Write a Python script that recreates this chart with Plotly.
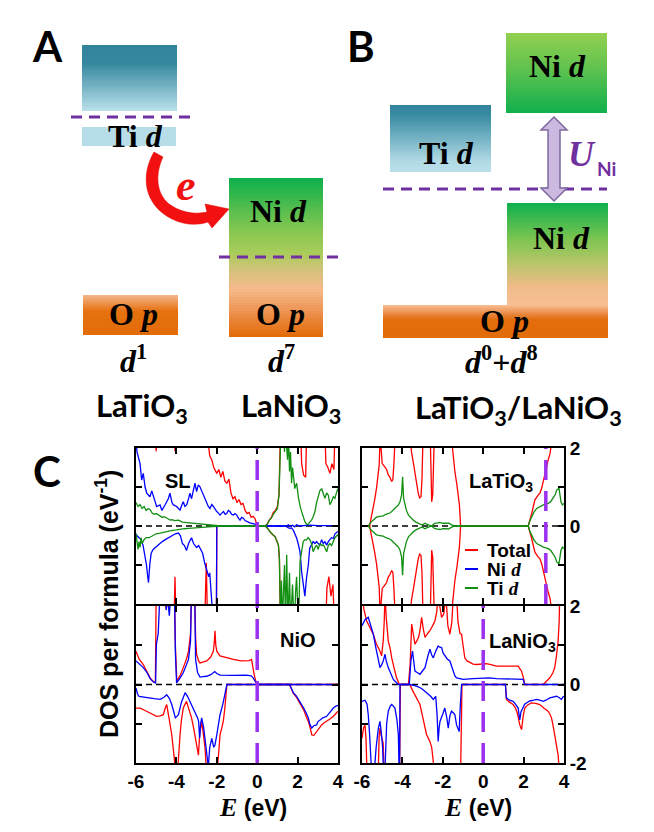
import numpy as np
import plotly.graph_objects as go

# ======================= DATA =======================
E_TICKS = [-6, -4, -2, 0, 2, 4]
E_TICK_LABELS = ["-6", "-4", "-2", "0", "2", "4"]
DOS_RANGE = [-2, 2]
DOS_MINOR_TICKS = [-1, 1]
DOS_LABELS_TOP = [0, 2]
DOS_LABELS_BOTTOM = [-2, 0, 2]
FERMI = {"SL": 0.0, "LaTiO3": 3.1, "NiO": 0.0, "LaNiO3": 0.0}

# ---- SL (superlattice) ----
sl_total_up = [(-6.0, 3.0), (-5.05, 2.5), (-5.0, 1.92), (-4.95, 2.5), (-4.1, 2.5), (-4.07, 1.92), (-4.03, 2.5),
               (-2.45, 2.5), (-2.42, 2.1), (-2.35, 1.8), (-2.25, 1.7), (-2.15, 1.5), (-2.05, 1.4), (-2.0, 1.35),
               (-1.9, 1.45), (-1.8, 1.25), (-1.7, 1.4), (-1.6, 1.15), (-1.5, 1.1), (-1.4, 1.2), (-1.3, 0.85),
               (-1.2, 0.7), (-1.1, 0.75), (-1.0, 0.6), (-0.9, 0.68), (-0.8, 0.55), (-0.7, 0.58), (-0.6, 0.4),
               (-0.5, 0.32), (-0.4, 0.35), (-0.3, 0.22), (-0.2, 0.25), (-0.1, 0.18), (-0.02, 0.05), (0.0, 0.0),
               (0.4, 0.0), (0.5, 0.05), (0.6, 0.15), (0.7, 0.22), (0.8, 0.35), (0.9, 0.4), (1.0, 0.5), (1.08, 0.8),
               (1.15, 2.5), (2.15, 2.5), (2.2, 1.6), (2.3, 1.3), (2.4, 1.25), (2.45, 2.5), (3.35, 2.5), (3.4, 1.6),
               (3.5, 1.5), (3.6, 1.35), (3.7, 1.6), (3.8, 1.45), (3.85, 2.5), (4.0, 2.5)]
sl_ni_up = [(-6.0, 2.2), (-5.95, 1.9), (-5.8, 1.6), (-5.72, 1.18), (-5.64, 1.35), (-5.55, 1.0), (-5.47, 0.84),
            (-5.31, 0.75), (-5.22, 0.9), (-5.14, 0.79), (-5.05, 0.62), (-4.98, 0.5), (-4.81, 0.54), (-4.72, 0.4),
            (-4.65, 0.45), (-4.55, 0.55), (-4.48, 0.62), (-4.4, 0.7), (-4.32, 0.84), (-4.22, 0.6), (-4.15, 0.54),
            (-3.99, 0.5), (-3.9, 0.45), (-3.82, 0.41), (-3.72, 0.55), (-3.66, 0.62), (-3.58, 0.5), (-3.49, 0.54),
            (-3.4, 0.7), (-3.33, 0.84), (-3.25, 0.7), (-3.16, 0.97), (-3.08, 1.1), (-3.0, 0.88), (-2.92, 1.05),
            (-2.84, 1.01), (-2.75, 0.9), (-2.67, 0.79), (-2.58, 0.7), (-2.5, 0.62), (-2.42, 0.5), (-2.34, 0.45),
            (-2.25, 0.55), (-2.17, 0.5), (-2.08, 0.42), (-2.0, 0.37), (-1.92, 0.33), (-1.84, 0.28), (-1.75, 0.33),
            (-1.67, 0.37), (-1.58, 0.3), (-1.51, 0.32), (-1.43, 0.4), (-1.35, 0.37), (-1.27, 0.3), (-1.18, 0.28),
            (-1.1, 0.32), (-1.01, 0.28), (-0.93, 0.2), (-0.85, 0.15), (-0.77, 0.22), (-0.69, 0.2), (-0.6, 0.14),
            (-0.52, 0.11), (-0.44, 0.1), (-0.36, 0.08), (-0.2, 0.07), (-0.11, 0.05), (0.0, 0.0), (1.45, 0.0),
            (1.55, 0.03), (1.65, -0.01), (1.75, 0.02), (1.85, -0.02), (1.95, 0.03), (2.1, 0.0), (2.6, 0.02),
            (3.0, 0.01), (4.0, 0.01)]
sl_ti_up = [(-6.0, 0.6), (-5.9, 0.5), (-5.8, 0.55), (-5.7, 0.45), (-5.6, 0.5), (-5.5, 0.4), (-5.4, 0.45),
            (-5.3, 0.42), (-5.2, 0.33), (-5.1, 0.3), (-5.0, 0.32), (-4.9, 0.28), (-4.8, 0.25), (-4.7, 0.22),
            (-4.6, 0.24), (-4.5, 0.2), (-4.4, 0.18), (-4.3, 0.15), (-4.2, 0.16), (-4.1, 0.14), (-3.9, 0.15),
            (-3.7, 0.1), (-3.5, 0.09), (-3.3, 0.08), (-3.1, 0.06), (-2.9, 0.05), (-2.7, 0.04), (-2.5, 0.03),
            (-2.2, 0.02), (-2.0, 0.01), (-1.8, 0.0), (0.4, 0.0), (0.5, 0.05), (0.6, 0.15), (0.7, 0.2), (0.8, 0.3),
            (0.9, 0.38), (1.0, 0.45), (1.08, 0.8), (1.12, 1.6), (1.18, 2.5), (1.3, 2.5), (1.35, 1.9), (1.4, 2.5),
            (1.5, 1.7), (1.55, 2.3), (1.6, 1.4), (1.65, 1.9), (1.7, 1.1), (1.75, 1.5), (1.8, 1.2), (1.86, 0.96),
            (1.95, 1.1), (2.05, 0.7), (2.15, 0.45), (2.25, 0.3), (2.36, 0.11), (2.45, 0.04), (2.52, 0.04),
            (2.6, 0.1), (2.69, 0.15), (2.78, 0.25), (2.86, 0.37), (2.94, 0.6), (3.02, 0.79), (3.1, 0.9),
            (3.19, 0.96), (3.27, 0.8), (3.35, 0.71), (3.44, 0.85), (3.52, 0.79), (3.6, 0.55), (3.68, 0.62),
            (3.77, 0.75), (3.85, 0.71), (3.92, 0.85), (4.0, 0.96)]
sl_total_dn = [(-6.0, -2.5), (-4.12, -2.5), (-4.07, -1.3), (-4.02, -2.5), (-2.6, -2.5), (-2.52, -0.95),
               (-2.46, -2.5), (-2.02, -2.5), (-2.0, 0.0), (0.4, 0.0), (0.5, -0.05), (0.63, -0.15), (0.75, -0.22),
               (0.88, -0.27), (1.0, -0.4), (1.05, -0.49), (1.1, -0.85), (1.15, -2.5), (3.4, -2.5), (3.45, -1.6),
               (3.55, -1.3), (3.65, -1.8), (3.75, -1.5), (3.82, -2.5), (4.0, -2.5)]
sl_ni_dn = [(-6.0, -0.2), (-5.95, -0.25), (-5.85, -0.3), (-5.75, -0.35), (-5.65, -0.5), (-5.55, -0.75),
            (-5.48, -1.0), (-5.42, -1.3), (-5.38, -1.45), (-5.32, -1.0), (-5.25, -0.7), (-5.15, -0.6),
            (-5.05, -0.55), (-4.95, -0.5), (-4.85, -0.45), (-4.7, -0.4), (-4.55, -0.35), (-4.45, -0.32),
            (-4.33, -0.3), (-4.2, -0.25), (-4.05, -0.2), (-3.9, -0.18), (-3.8, -0.25), (-3.7, -0.45),
            (-3.6, -0.5), (-3.5, -0.63), (-3.4, -0.45), (-3.3, -0.35), (-3.25, -0.3), (-3.15, -0.45),
            (-3.0, -0.55), (-2.9, -0.5), (-2.8, -0.6), (-2.7, -0.7), (-2.6, -0.95), (-2.5, -1.1), (-2.4, -1.3),
            (-2.35, -1.2), (-2.3, -1.6), (-2.2, -2.3), (-2.02, -2.3), (-2.0, 0.0), (1.4, 0.0), (1.46, -0.03),
            (1.55, -0.05), (1.62, -0.06), (1.7, -0.05), (1.8, -0.12), (1.9, -0.25), (1.96, -0.32), (2.05, -0.5),
            (2.12, -0.66), (2.2, -1.17), (2.28, -1.5), (2.36, -1.8), (2.44, -1.34), (2.53, -1.0), (2.6, -0.57),
            (2.7, -0.45), (2.77, -0.4), (2.86, -0.45), (2.94, -0.4), (3.02, -0.45), (3.1, -0.49), (3.19, -0.35),
            (3.27, -0.45), (3.35, -0.4), (3.44, -0.49), (3.52, -0.4), (3.6, -0.35), (3.68, -0.3), (3.77, -0.32),
            (3.85, -0.2), (3.97, -0.15), (4.0, -0.15)]
sl_ti_dn = [(-6.0, -0.2), (-5.95, -0.35), (-5.9, -0.6), (-5.85, -0.4), (-5.8, -0.55), (-5.75, -0.3),
            (-5.7, -0.45), (-5.6, -0.35), (-5.5, -0.3), (-5.35, -0.3), (-5.2, -0.25), (-5.0, -0.2), (-4.8, -0.18),
            (-4.6, -0.15), (-4.4, -0.12), (-4.2, -0.11), (-4.0, -0.1), (-3.8, -0.08), (-3.6, -0.07), (-3.4, -0.06),
            (-3.2, -0.05), (-3.0, -0.04), (-2.7, -0.03), (-2.4, -0.02), (-2.0, -0.01), (-1.8, 0.0), (0.4, 0.0),
            (0.5, -0.05), (0.63, -0.15), (0.75, -0.22), (0.88, -0.27), (0.97, -0.38), (1.05, -0.49), (1.1, -0.83),
            (1.15, -2.5), (1.2, -1.4), (1.25, -2.5), (1.3, -1.7), (1.35, -1.0), (1.4, -2.5), (1.46, -0.74),
            (1.52, -2.5), (1.56, -1.6), (1.6, -1.2), (1.65, -2.5), (1.7, -1.9), (1.75, -1.5), (1.8, -2.2),
            (1.85, -2.5), (1.9, -1.7), (1.95, -1.3), (2.0, -2.0), (2.05, -2.5), (2.12, -0.91), (2.2, -0.6),
            (2.28, -0.4), (2.36, -0.35), (2.44, -0.36), (2.52, -0.3), (2.6, -0.35), (2.69, -0.45), (2.77, -0.66),
            (2.86, -0.55), (2.94, -0.49), (3.02, -0.6), (3.1, -0.45), (3.19, -0.5), (3.27, -0.49), (3.35, -0.55),
            (3.44, -0.66), (3.52, -0.5), (3.6, -0.45), (3.68, -0.5), (3.77, -0.4), (3.85, -0.3), (3.97, -0.23),
            (4.0, -0.25)]

# ---- bulk LaTiO3 (non-magnetic: up and down mirror each other) ----
latio_total_up = [(-6.0, 0.0), (-5.62, 0.0), (-5.55, 0.2), (-5.48, 0.37), (-5.38, 0.65), (-5.28, 0.97),
                  (-5.2, 1.3), (-5.15, 1.56), (-5.1, 2.3), (-5.05, 1.75), (-5.0, 1.6), (-4.92, 1.55),
                  (-4.85, 1.5), (-4.78, 1.45), (-4.7, 1.31), (-4.62, 1.25), (-4.53, 1.14), (-4.47, 1.2),
                  (-4.42, 1.6), (-4.36, 2.3), (-3.62, 2.3), (-3.55, 1.9), (-3.45, 1.6), (-3.38, 1.35), (-3.3, 1.1),
                  (-3.22, 0.85), (-3.15, 0.72), (-3.08, 0.75), (-3.03, 1.2), (-2.98, 2.3), (-2.62, 2.3),
                  (-2.58, 1.2), (-2.55, 0.62), (-2.5, 0.8), (-2.45, 1.6), (-2.42, 2.3), (-1.58, 2.3), (-1.5, 1.8),
                  (-1.4, 1.39), (-1.3, 1.05), (-1.23, 0.8), (-1.18, 0.55), (-1.15, 0.3), (-1.12, 0.0), (2.23, 0.0),
                  (2.3, 0.12), (2.4, 0.32), (2.48, 0.5), (2.56, 0.67), (2.7, 0.78), (2.81, 0.84), (2.9, 0.98),
                  (2.98, 1.18), (3.06, 1.35), (3.14, 1.52), (3.22, 1.7), (3.31, 1.86), (3.38, 2.1), (3.45, 2.4),
                  (4.0, 2.5)]
latio_total_dn = [(-6.0, -0.0), (-5.62, -0.0), (-5.55, -0.2), (-5.48, -0.37), (-5.38, -0.65), (-5.28, -0.97),
                  (-5.2, -1.3), (-5.15, -1.56), (-5.1, -2.3), (-5.05, -1.75), (-5.0, -1.6), (-4.92, -1.55),
                  (-4.85, -1.5), (-4.78, -1.45), (-4.7, -1.31), (-4.62, -1.25), (-4.53, -1.14), (-4.47, -1.2),
                  (-4.42, -1.6), (-4.36, -2.3), (-3.62, -2.3), (-3.55, -1.9), (-3.45, -1.6), (-3.38, -1.35),
                  (-3.3, -1.1), (-3.22, -0.85), (-3.15, -0.72), (-3.08, -0.75), (-3.03, -1.2), (-2.98, -2.3),
                  (-2.62, -2.3), (-2.58, -1.2), (-2.55, -0.62), (-2.5, -0.8), (-2.45, -1.6), (-2.42, -2.3),
                  (-1.58, -2.3), (-1.5, -1.8), (-1.4, -1.39), (-1.3, -1.05), (-1.23, -0.8), (-1.18, -0.55),
                  (-1.15, -0.3), (-1.12, -0.0), (2.23, -0.0), (2.3, -0.12), (2.4, -0.32), (2.48, -0.5),
                  (2.56, -0.67), (2.7, -0.78), (2.81, -0.84), (2.9, -0.98), (2.98, -1.18), (3.06, -1.35),
                  (3.14, -1.52), (3.22, -1.7), (3.31, -1.86), (3.38, -2.1), (3.45, -2.4), (4.0, -2.5)]
latio_ti_up = [(-6.0, 0.0), (-5.69, 0.0), (-5.55, 0.1), (-5.44, 0.15), (-5.3, 0.22), (-5.19, 0.24),
               (-5.05, 0.25), (-4.95, 0.26), (-4.82, 0.3), (-4.7, 0.32), (-4.6, 0.34), (-4.53, 0.37),
               (-4.45, 0.42), (-4.37, 0.45), (-4.28, 0.5), (-4.2, 0.54), (-4.12, 0.62), (-4.04, 0.8),
               (-3.99, 1.26), (-3.94, 0.71), (-3.87, 0.54), (-3.8, 0.4), (-3.7, 0.28), (-3.58, 0.2),
               (-3.46, 0.15), (-3.33, 0.1), (-3.21, 0.07), (-3.05, 0.03), (-2.95, 0.05), (-2.88, 0.07),
               (-2.8, 0.05), (-2.72, 0.03), (-2.64, 0.02), (-2.55, 0.0), (-2.47, 0.04), (-2.39, 0.07),
               (-2.25, 0.08), (-2.14, 0.09), (-2.0, 0.07), (-1.89, 0.06), (-1.8, 0.07), (-1.72, 0.08),
               (-1.64, 0.05), (-1.56, 0.03), (-1.39, 0.0), (2.23, 0.0), (2.3, 0.12), (2.4, 0.24), (2.52, 0.36),
               (2.65, 0.45), (2.81, 0.5), (2.98, 0.54), (3.1, 0.56), (3.22, 0.58), (3.35, 0.63), (3.47, 0.71),
               (3.56, 0.8), (3.64, 0.92), (3.75, 0.97), (3.8, 0.8), (3.85, 0.62), (3.92, 0.54), (4.0, 0.58)]
latio_ti_dn = [(-6.0, -0.0), (-5.69, -0.0), (-5.55, -0.1), (-5.44, -0.15), (-5.3, -0.22), (-5.19, -0.24),
               (-5.05, -0.25), (-4.95, -0.26), (-4.82, -0.3), (-4.7, -0.32), (-4.6, -0.34), (-4.53, -0.37),
               (-4.45, -0.42), (-4.37, -0.45), (-4.28, -0.5), (-4.2, -0.54), (-4.12, -0.62), (-4.04, -0.8),
               (-3.99, -1.26), (-3.94, -0.71), (-3.87, -0.54), (-3.8, -0.4), (-3.7, -0.28), (-3.58, -0.2),
               (-3.46, -0.15), (-3.33, -0.1), (-3.21, -0.07), (-3.05, -0.03), (-2.95, -0.05), (-2.88, -0.07),
               (-2.8, -0.05), (-2.72, -0.03), (-2.64, -0.02), (-2.55, -0.0), (-2.47, -0.04), (-2.39, -0.07),
               (-2.25, -0.08), (-2.14, -0.09), (-2.0, -0.07), (-1.89, -0.06), (-1.8, -0.07), (-1.72, -0.08),
               (-1.64, -0.05), (-1.56, -0.03), (-1.39, -0.0), (2.23, -0.0), (2.3, -0.12), (2.4, -0.24),
               (2.52, -0.36), (2.65, -0.45), (2.81, -0.5), (2.98, -0.54), (3.1, -0.56), (3.22, -0.58),
               (3.35, -0.63), (3.47, -0.71), (3.56, -0.8), (3.64, -0.92), (3.75, -0.97), (3.8, -0.8),
               (3.85, -0.62), (3.92, -0.54), (4.0, -0.58)]

# ---- bulk NiO ----
nio_total_up = [(-6.0, 0.85), (-5.85, 0.65), (-5.64, 0.51), (-5.45, 0.3), (-5.3, 0.17), (-5.15, 0.08),
                (-5.04, 0.04), (-5.0, 2.5), (-4.7, 2.5), (-4.5, 1.9), (-4.4, 2.5), (-4.1, 2.5), (-4.05, 1.0),
                (-3.98, 0.08), (-3.9, 0.15), (-3.8, 0.25), (-3.66, 0.43), (-3.5, 0.65), (-3.4, 0.85), (-3.3, 1.3),
                (-3.25, 2.5), (-3.1, 2.5), (-3.05, 1.2), (-3.0, 0.77), (-2.9, 0.6), (-2.83, 0.55), (-2.7, 0.57),
                (-2.5, 0.6), (-2.3, 0.7), (-2.17, 0.85), (-2.12, 1.1), (-2.09, 1.37), (-2.05, 1.0), (-2.0, 0.85),
                (-1.84, 0.73), (-1.5, 0.68), (-1.18, 0.64), (-0.8, 0.6), (-0.53, 0.6), (-0.4, 0.61), (-0.28, 0.64),
                (-0.22, 0.45), (-0.15, 0.25), (-0.05, 0.05), (0.0, 0.0), (3.7, 0.0), (3.8, 0.01), (4.0, 0.01)]
nio_ni_up = [(-6.0, 0.6), (-5.85, 0.52), (-5.64, 0.43), (-5.45, 0.3), (-5.3, 0.15), (-5.15, 0.07), (-5.03, 0.04),
             (-4.99, 1.03), (-4.9, 1.3), (-4.8, 2.5), (-4.55, 2.5), (-4.5, 1.9), (-4.45, 2.3), (-4.35, 1.75),
             (-4.25, 2.5), (-4.1, 2.5), (-4.05, 0.8), (-3.99, 0.04), (-3.9, 0.1), (-3.8, 0.18), (-3.66, 0.3),
             (-3.5, 0.5), (-3.4, 0.64), (-3.3, 1.1), (-3.25, 2.5), (-3.1, 2.5), (-3.05, 0.64), (-2.95, 0.3),
             (-2.83, 0.19), (-2.7, 0.2), (-2.5, 0.21), (-2.3, 0.25), (-2.17, 0.3), (-2.1, 0.33), (-2.0, 0.28),
             (-1.84, 0.24), (-1.2, 0.23), (-0.53, 0.24), (-0.3, 0.22), (-0.2, 0.17), (-0.1, 0.08), (0.0, 0.0),
             (4.0, 0.0)]
nio_total_dn = [(-6.0, -0.6), (-5.8, -0.6), (-5.6, -0.65), (-5.47, -0.68), (-5.2, -0.75), (-4.98, -0.81),
                (-4.8, -0.8), (-4.65, -0.77), (-4.55, -0.6), (-4.48, -0.51), (-4.35, -0.9), (-4.23, -1.28),
                (-4.1, -1.9), (-4.05, -2.3), (-3.95, -2.3), (-3.88, -1.6), (-3.82, -1.28), (-3.75, -0.9),
                (-3.66, -0.6), (-3.5, -0.43), (-3.4, -0.6), (-3.25, -0.85), (-3.15, -1.1), (-3.08, -1.28),
                (-3.0, -1.5), (-2.91, -1.8), (-2.85, -1.3), (-2.75, -0.94), (-2.68, -1.2), (-2.58, -1.62),
                (-2.5, -2.3), (-2.0, -2.3), (-1.9, -1.7), (-1.84, -1.28), (-1.75, -1.1), (-1.68, -0.94),
                (-1.6, -0.6), (-1.56, -0.34), (-1.52, -0.05), (-1.5, 0.0), (1.6, 0.0), (1.7, -0.1), (1.79, -0.23),
                (1.95, -0.33), (2.12, -0.47), (2.3, -0.65), (2.45, -0.85), (2.53, -0.94), (2.62, -1.1),
                (2.7, -1.28), (2.8, -1.3), (2.94, -1.2), (3.05, -1.1), (3.19, -1.03), (3.3, -0.98), (3.44, -0.94),
                (3.6, -0.88), (3.77, -0.81), (3.9, -0.72), (4.0, -0.68)]
nio_ni_dn = [(-6.0, -0.09), (-5.92, -0.25), (-5.85, -0.3), (-5.47, -0.34), (-5.1, -0.36), (-4.8, -0.38),
             (-4.6, -0.32), (-4.48, -0.26), (-4.35, -0.35), (-4.23, -0.51), (-4.1, -0.75), (-4.05, -0.85),
             (-3.95, -0.8), (-3.9, -0.77), (-3.75, -0.45), (-3.57, -0.21), (-3.45, -0.3), (-3.33, -0.43),
             (-3.2, -0.55), (-3.08, -0.68), (-2.95, -0.85), (-2.9, -0.94), (-2.85, -1.37), (-2.8, -1.0),
             (-2.75, -0.85), (-2.65, -1.1), (-2.58, -1.45), (-2.5, -1.8), (-2.42, -2.1), (-2.35, -1.6),
             (-2.25, -1.37), (-2.15, -1.6), (-2.09, -1.54), (-2.0, -1.28), (-1.9, -1.0), (-1.84, -0.77),
             (-1.7, -0.5), (-1.59, -0.26), (-1.52, -0.05), (-1.5, 0.0), (1.6, 0.0), (1.7, -0.1), (1.79, -0.21),
             (1.95, -0.3), (2.12, -0.43), (2.3, -0.6), (2.45, -0.75), (2.53, -0.85), (2.6, -1.0), (2.7, -1.11),
             (2.8, -1.05), (2.94, -1.03), (3.0, -0.95), (3.1, -0.9), (3.25, -0.85), (3.44, -0.81), (3.6, -0.7),
             (3.77, -0.6), (3.9, -0.55), (4.0, -0.53)]

# ---- bulk LaNiO3 ----
lanio_total_up = [(-6.0, 2.3), (-5.9, 1.9), (-5.77, 1.62), (-5.6, 1.45), (-5.44, 1.28), (-5.3, 1.05),
                  (-5.2, 0.95), (-5.11, 0.85), (-5.03, 0.73), (-4.98, 0.9), (-4.95, 1.11), (-4.9, 1.6),
                  (-4.86, 2.3), (-4.8, 1.7), (-4.7, 1.11), (-4.6, 0.9), (-4.53, 0.68), (-4.4, 0.4), (-4.29, 0.17),
                  (-4.15, 0.0), (-3.7, 0.0), (-3.62, 0.5), (-3.58, 1.2), (-3.54, 1.54), (-3.46, 1.28),
                  (-3.38, 1.03), (-3.3, 1.1), (-3.2, 1.2), (-3.13, 1.37), (-3.05, 1.71), (-2.96, 1.4), (-2.88, 1.2),
                  (-2.75, 1.3), (-2.64, 1.37), (-2.5, 1.5), (-2.39, 1.62), (-2.3, 1.85), (-2.23, 2.3),
                  (-2.15, 2.0), (-2.06, 1.71), (-1.95, 1.8), (-1.85, 2.3), (-1.75, 1.5), (-1.65, 1.28),
                  (-1.55, 1.6), (-1.48, 2.3), (-1.32, 2.3), (-1.25, 1.6), (-1.15, 1.3), (-1.07, 1.28), (-1.0, 1.0),
                  (-0.91, 0.68), (-0.8, 0.6), (-0.66, 0.56), (-0.5, 0.52), (-0.33, 0.51), (-0.15, 0.52),
                  (0.0, 0.53), (0.15, 0.53), (0.33, 0.51), (0.5, 0.49), (0.66, 0.47), (1.0, 0.47), (1.4, 0.47),
                  (1.73, 0.47), (1.82, 0.4), (1.9, 0.34), (2.0, 0.15), (2.06, 0.0), (2.97, 0.0), (3.1, 0.06),
                  (3.3, 0.17), (3.45, 0.3), (3.54, 0.43), (3.62, 0.7), (3.71, 1.11), (3.76, 1.6), (3.79, 2.3),
                  (4.0, 2.5)]
lanio_ni_up = [(-6.0, 1.5), (-5.85, 1.65), (-5.69, 1.71), (-5.55, 1.5), (-5.44, 1.28), (-5.3, 0.9), (-5.2, 0.6),
               (-5.11, 0.43), (-5.03, 0.5), (-4.95, 0.6), (-4.86, 0.77), (-4.8, 0.6), (-4.7, 0.43), (-4.6, 0.3),
               (-4.45, 0.13), (-4.3, 0.05), (-4.2, 0.0), (-3.66, 0.0), (-3.62, 0.3), (-3.58, 0.6), (-3.5, 0.85),
               (-3.45, 0.55), (-3.38, 0.34), (-3.25, 0.3), (-3.13, 0.26), (-3.0, 0.35), (-2.88, 0.43),
               (-2.75, 0.7), (-2.64, 0.9), (-2.55, 0.75), (-2.47, 0.68), (-2.35, 0.85), (-2.23, 0.98),
               (-2.15, 0.95), (-2.06, 0.94), (-1.98, 0.8), (-1.9, 0.73), (-1.78, 0.65), (-1.65, 0.6),
               (-1.55, 0.45), (-1.48, 0.3), (-1.4, 0.22), (-1.32, 0.17), (-1.15, 0.14), (-0.99, 0.13),
               (-0.5, 0.15), (0.0, 0.17), (0.3, 0.17), (0.66, 0.15), (1.3, 0.14), (1.98, 0.13), (2.04, 0.02),
               (2.06, 0.0), (4.0, 0.0)]
lanio_total_dn = [(-6.0, -1.37), (-5.92, -1.1), (-5.85, -1.03), (-5.8, -1.4), (-5.75, -2.3), (-5.2, -2.3),
                  (-5.15, -1.3), (-5.11, -1.11), (-5.05, -1.3), (-4.95, -1.5), (-4.9, -2.3), (-4.14, -2.3),
                  (-4.1, 0.0), (-3.63, 0.0), (-3.5, -0.15), (-3.38, -0.26), (-3.25, -0.4), (-3.13, -0.51),
                  (-3.05, -0.7), (-2.97, -0.94), (-2.88, -1.1), (-2.8, -1.28), (-2.72, -1.35), (-2.64, -1.45),
                  (-2.55, -1.6), (-2.47, -1.88), (-2.4, -2.3), (-1.12, -2.3), (-1.08, -0.5), (-1.05, 0.0),
                  (1.1, 0.0), (1.12, -0.3), (1.15, -0.38), (1.3, -0.45), (1.48, -0.51), (1.6, -0.6), (1.7, -0.75),
                  (1.81, -1.03), (1.9, -1.15), (1.98, -0.8), (2.06, -0.6), (2.2, -0.52), (2.39, -0.47),
                  (2.6, -0.48), (2.8, -0.51), (3.0, -0.6), (3.21, -0.68), (3.3, -0.75), (3.38, -0.85),
                  (3.46, -1.05), (3.54, -1.28), (3.62, -1.55), (3.71, -1.8), (3.78, -2.3), (4.0, -2.5)]
lanio_ni_dn = [(-6.0, -0.43), (-5.85, -0.4), (-5.75, -0.5), (-5.69, -0.77), (-5.62, -1.3), (-5.58, -1.6),
               (-5.52, -2.3), (-5.4, -2.3), (-5.3, -1.6), (-5.19, -1.11), (-5.11, -0.94), (-5.05, -1.2),
               (-4.98, -1.6), (-4.93, -2.3), (-4.85, -2.0), (-4.78, -1.0), (-4.7, -0.68), (-4.6, -0.55),
               (-4.53, -0.51), (-4.45, -0.55), (-4.37, -0.6), (-4.27, -0.9), (-4.2, -1.28), (-4.16, -2.3),
               (-4.14, -2.3), (-4.12, 0.0), (-3.63, 0.0), (-3.45, -0.02), (-3.3, -0.04), (-3.05, -0.1),
               (-2.8, -0.21), (-2.6, -0.3), (-2.47, -0.38), (-2.35, -0.3), (-2.28, -0.8), (-2.23, -1.45),
               (-2.18, -1.1), (-2.14, -0.94), (-2.0, -0.75), (-1.9, -0.6), (-1.8, -0.85), (-1.73, -1.11),
               (-1.65, -0.8), (-1.57, -0.68), (-1.48, -0.72), (-1.4, -0.77), (-1.32, -1.03), (-1.25, -1.1),
               (-1.19, -1.2), (-1.14, -0.6), (-1.1, -0.1), (-1.07, 0.0), (1.1, 0.0), (1.12, -0.28), (1.15, -0.34),
               (1.3, -0.4), (1.48, -0.43), (1.6, -0.5), (1.73, -0.6), (1.78, -0.8), (1.81, -0.9), (1.87, -0.7),
               (1.95, -0.6), (2.05, -0.5), (2.14, -0.47), (2.3, -0.42), (2.5, -0.4), (2.64, -0.38), (2.8, -0.4),
               (2.97, -0.43), (3.1, -0.4), (3.3, -0.34), (3.45, -0.32), (3.63, -0.3), (3.75, -0.33),
               (3.87, -0.38), (3.95, -0.32), (4.0, -0.3)]

SERIES_NAMES = ["Total", "Ni d", "Ti d"]

# ======================= STYLE / LAYOUT =======================
W, H = 654, 832
OFF = 8  # the page body margin shifts the figure by this many pixels; compensate
RED, BLUE, GREEN = "#FF0000", "#0000FF", "#118F11"
PURPLE_EF = "#9B30F0"
PURPLE_DIAG = "#7030A0"
SERIF = "Liberation Serif"
SANS = "Liberation Sans"
CAL = "Lato"

# panel frames in screen pixels: (left, right), (top, bottom); rows overlap so the shared frame is one line
COLS = [(136, 338), (362, 564)]
ROWS = [(448, 604), (606, 763)]


def xdom(c):
    return [(COLS[c][0] - OFF) / W, (COLS[c][1] - OFF) / W]


def ydom(r):
    return [1 - (ROWS[r][1] - OFF) / H, 1 - (ROWS[r][0] - OFF) / H]


fig = go.Figure()

panels = [
    ("", 0, 0, "SL", [(sl_total_up, RED), (sl_total_dn, RED), (sl_ni_up, BLUE), (sl_ni_dn, BLUE),
                       (sl_ti_up, GREEN), (sl_ti_dn, GREEN)]),
    ("2", 1, 0, "LaTiO3", [(latio_total_up, RED), (latio_total_dn, RED), (latio_ti_up, GREEN),
                           (latio_ti_dn, GREEN)]),
    ("3", 0, 1, "NiO", [(nio_total_up, RED), (nio_total_dn, RED), (nio_ni_up, BLUE), (nio_ni_dn, BLUE)]),
    ("4", 1, 1, "LaNiO3", [(lanio_total_up, RED), (lanio_total_dn, RED), (lanio_ni_up, BLUE),
                           (lanio_ni_dn, BLUE)]),
]

shapes = []
for suf, c, r, key, curves in panels:
    xa, ya = "x" + suf, "y" + suf
    for pts, col in curves:
        e = [p[0] for p in pts]
        d = [p[1] for p in pts]
        fig.add_trace(go.Scatter(x=e, y=d, mode="lines", line=dict(color=col, width=1.3),
                                 xaxis=xa, yaxis=ya, showlegend=False, hoverinfo="skip"))
    shapes.append(dict(type="line", xref=xa, yref=ya, x0=E_TICKS[0], x1=E_TICKS[-1], y0=0, y1=0,
                       line=dict(color="black", width=1.5, dash="6px,4px"), layer="below"))
    shapes.append(dict(type="line", xref=xa, yref=ya, x0=FERMI[key], x1=FERMI[key], y0=DOS_RANGE[0],
                       y1=DOS_RANGE[1], line=dict(color=PURPLE_EF, width=3.5, dash="20px,11px")))

    axis_common = dict(showline=True, linecolor="black", linewidth=2, mirror="ticks", ticks="inside",
                       ticklen=6, tickwidth=1.5, tickcolor="black", showgrid=False, zeroline=False,
                       automargin=False)
    tfont = dict(family=SANS, size=19, color="black", weight="bold")
    ylab = DOS_LABELS_TOP if r == 0 else DOS_LABELS_BOTTOM
    fig.layout["xaxis" + suf] = dict(domain=xdom(c), range=[E_TICKS[0], E_TICKS[-1]], tickvals=E_TICKS,
                                     ticktext=E_TICK_LABELS, showticklabels=(r == 1), anchor=ya,
                                     tickfont=tfont, **axis_common)
    fig.layout["yaxis" + suf] = dict(domain=ydom(r), range=DOS_RANGE, tickvals=ylab,
                                     ticktext=[str(v) for v in ylab],
                                     minor=dict(tickvals=DOS_MINOR_TICKS, ticks="inside", ticklen=6,
                                                tickwidth=1.5, tickcolor="black", showgrid=False),
                                     showticklabels=(c == 1), side=("right" if c == 1 else "left"),
                                     anchor=xa, tickfont=tfont, **axis_common)

# ---------------- schematic panels A and B (screen-pixel coordinates on an overlay axis) ----------------
TEAL_A = [[0, "#31849B"], [0.27, "#34879E"], [1, "#B9E0EA"]]
TEAL_B = [[0, "#31849B"], [0.15, "#3A8CA3"], [0.85, "#B1DAE5"], [1, "#B9E0EA"]]
LIGHT_BLUE = [[0, "#B7DEE8"], [1, "#B7DEE8"]]
ORANGE_A = [[0, "#F5B58A"], [0.4, "#E5710F"], [1, "#E36C0A"]]
NI_O_A = [[0, "#10B04C"], [0.33, "#86C750"], [0.47, "#A9CC5A"], [0.58, "#D2C27A"], [0.7, "#F5BA8C"],
          [0.86, "#EC8F4A"], [1, "#E36C0A"]]
NI_TOP_B = [[0, "#92D050"], [0.45, "#5FC24F"], [1, "#12B04E"]]
NI_LOW_B = [[0, "#10B04E"], [0.35, "#7CC550"], [0.6, "#B9C56B"], [0.82, "#EFBB88"], [1, "#F8BF94"]]
ORANGE_B = [[0, "#F7BC90"], [0.3, "#E88238"], [0.45, "#E46C0A"], [1, "#E36C0A"]]

BOXES = [  # x0, x1, y0, y1, colorscale
    (82, 177, 45, 111, TEAL_A),
    (82, 176, 127, 146, LIGHT_BLUE),
    (83, 178, 295, 335, ORANGE_A),
    (229, 323, 178, 337, NI_O_A),
    (506, 607, 33, 113, NI_TOP_B),
    (390, 491, 105, 172, TEAL_B),
    (507, 608, 203, 305, NI_LOW_B),
    (383, 608, 305, 338, ORANGE_B),
]
NROWS = 60
for x0, x1, y0, y1, cs in BOXES:
    yedges = np.linspace(y0, y1, NROWS + 1)
    z = [[i / (NROWS - 1)] for i in range(NROWS)]
    fig.add_trace(go.Heatmap(x=[x0, x1], y=yedges, z=z, colorscale=cs, zmin=0, zmax=1, showscale=False,
                             hoverinfo="skip", xaxis="x5", yaxis="y5"))

fig.layout["xaxis5"] = dict(domain=[0, 1], range=[OFF, W + OFF], visible=False, fixedrange=True,
                            automargin=False)
fig.layout["yaxis5"] = dict(domain=[0, 1], range=[H + OFF, OFF], visible=False, fixedrange=True,
                            automargin=False)

DASH_LINES = [(71, 194, 117), (219, 342, 257), (383, 607, 189)]
for xa0, xa1, yy in DASH_LINES:
    shapes.append(dict(type="line", xref="x5", yref="y5", x0=xa0, x1=xa1, y0=yy, y1=yy,
                       line=dict(color=PURPLE_DIAG, width=3, dash="11px,7px")))

shapes.append(dict(type="path", xref="x5", yref="y5",
                   path="M 154,152 C 140,176 144,205 172,219 C 186,226 199,225 208,222 L 212,228 "
                        "L 229,209 L 205,204 L 207,212 C 194,215 180,212 169,204 C 156,193 155,174 163,157 Z",
                   fillcolor="#F21010", line=dict(color="#E00000", width=0.5)))
shapes.append(dict(type="path", xref="x5", yref="y5",
                   path="M 554,117 L 567,130 L 560,130 L 560,188 L 567,188 L 554,201 L 541,188 L 548,188 "
                        "L 548,130 L 541,130 Z",
                   fillcolor="#CBB9DF", line=dict(color="#7E6A9E", width=1.5)))

LEGEND_ROWS = [(550, RED), (569, BLUE), (588, GREEN)]
for yy, col in LEGEND_ROWS:
    shapes.append(dict(type="line", xref="x5", yref="y5", x0=465, x1=478, y0=yy, y1=yy,
                       line=dict(color=col, width=2)))


def ann(x, y, text, size, family, color="black", xanchor="center", angle=0):
    return dict(x=x, y=y, xref="x5", yref="y5", text=text, showarrow=False, xanchor=xanchor,
                yanchor="middle", textangle=angle, font=dict(family=family, size=size, color=color))


def ital(s):
    return '<span style="font-family:Liberation Serif"><i>%s</i></span>' % s


E_LABEL = "<b>" + '<span style="font-family:Liberation Serif;font-size:26px"><i>E</i></span>' + " (eV)</b>"

annotations = [
    ann(47, 46, "<b>A</b>", 42, CAL),
    ann(361, 46, "<b>B</b>", 42, CAL),
    ann(47, 471, "<b>C</b>", 42, CAL),
    ann(135, 136, "<b>Ti <i>d</i></b>", 32, SERIF),
    ann(186, 185, "<b><i>e</i></b>", 44, SERIF, color="#F21010"),
    ann(278, 211, "<b>Ni <i>d</i></b>", 32, SERIF),
    ann(280, 314, "<b>O <i>p</i></b>", 32, SERIF),
    ann(133, 314, "<b>O <i>p</i></b>", 32, SERIF),
    ann(133, 359, "<b><i>d</i><sup>1</sup></b>", 32, SERIF),
    ann(281, 359, "<b><i>d</i><sup>7</sup></b>", 32, SERIF),
    ann(142, 407, "<b>LaTiO<sub>3</sub></b>", 31, CAL),
    ann(291, 407, "<b>LaNiO<sub>3</sub></b>", 31, CAL),
    ann(557, 66, "<b>Ni <i>d</i></b>", 32, SERIF),
    ann(446, 153, "<b>Ti <i>d</i></b>", 32, SERIF),
    ann(582, 154, "<b><i>U</i></b>", 36, SERIF, color=PURPLE_DIAG),
    ann(595, 168, "<b>Ni</b>", 19, CAL, color=PURPLE_DIAG, xanchor="left"),
    ann(561, 238, "<b>Ni <i>d</i></b>", 32, SERIF),
    ann(504, 321, "<b>O <i>p</i></b>", 32, SERIF),
    ann(501, 360, "<b><i>d</i><sup>0</sup>+<i>d</i><sup>8</sup></b>", 32, SERIF),
    ann(518, 409, "<b>LaTiO<sub>3</sub>/LaNiO<sub>3</sub></b>", 31, CAL),
    ann(107, 604, "<b>DOS per formula (eV<sup>-1</sup>)</b>", 25, SANS, angle=-90),
    ann(178, 481, "<b>SL</b>", 20, SANS),
    ann(467, 482, "<b>LaTiO<sub>3</sub></b>", 20, SANS, xanchor="left"),
    ann(298, 640, "<b>NiO</b>", 20, SANS),
    ann(487, 642, "<b>LaNiO<sub>3</sub></b>", 20, SANS, xanchor="left"),
    ann(253, 807, E_LABEL, 23, SANS),
    ann(478, 807, E_LABEL, 23, SANS),
]
LEGEND_TEXT = ["<b>Total</b>", "<b>Ni " + ital("d") + "</b>", "<b>Ti " + ital("d") + "</b>"]
for (yy, col), txt in zip(LEGEND_ROWS, LEGEND_TEXT):
    annotations.append(ann(485, yy, txt, 19, SANS, xanchor="left"))

fig.update_layout(template="none", width=W, height=H, margin=dict(l=0, r=0, t=0, b=0, pad=0),
                  paper_bgcolor="white", plot_bgcolor="rgba(0,0,0,0)", showlegend=False,
                  shapes=shapes, annotations=annotations)

fig.write_html("out.html")
